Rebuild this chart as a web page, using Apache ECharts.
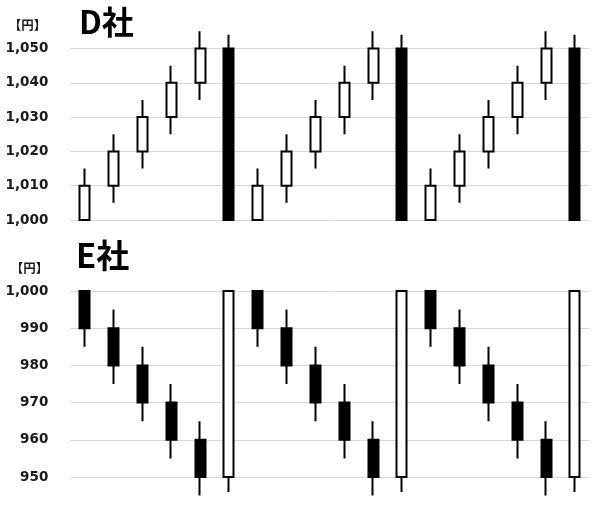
<!DOCTYPE html>
<html>
<head>
<meta charset="utf-8">
<script src="https://cdn.jsdelivr.net/npm/echarts@6/dist/echarts.min.js"></script>
<style>html,body{margin:0;padding:0;background:#fff}#c{width:600px;height:514px}</style>
</head>
<body>
<div id="c"></div>
<script>
// Categories (18 sessions, three repeated patterns)
var days = ['1','2','3','4','5','6','7','8','9','10','11','12','13','14','15','16','17','18'];

// D社 OHLC
var dOpen  = [1000,1010,1020,1030,1040,1050, 1000,1010,1020,1030,1040,1050, 1000,1010,1020,1030,1040,1050];
var dClose = [1010,1020,1030,1040,1050,1000, 1010,1020,1030,1040,1050,1000, 1010,1020,1030,1040,1050,1000];
var dLow   = [1000,1005,1015,1025,1035,1000, 1000,1005,1015,1025,1035,1000, 1000,1005,1015,1025,1035,1000];
var dHigh  = [1015,1025,1035,1045,1055,1054, 1015,1025,1035,1045,1055,1054, 1015,1025,1035,1045,1055,1054];

// E社 OHLC
var eOpen  = [1000,990,980,970,960,950, 1000,990,980,970,960,950, 1000,990,980,970,960,950];
var eClose = [990,980,970,960,950,1000, 990,980,970,960,950,1000, 990,980,970,960,950,1000];
var eLow   = [985,975,965,955,945,946, 985,975,965,955,945,946, 985,975,965,955,945,946];
var eHigh  = [1000,995,985,975,965,1000, 1000,995,985,975,965,1000, 1000,995,985,975,965,1000];

// Axis ticks
var dTicks = {min:1000, max:1050, interval:10};
var eTicks = {min:950, max:1000, interval:10};

function ohlc(o,c,l,h){ return o.map(function(v,i){ return [o[i], c[i], l[i], h[i]]; }); }
function fmt(v){ return String(v).replace(/\B(?=(\d{3})+(?!\d))/g, ','); }

var chart = echarts.init(document.getElementById('c'), null, {renderer:'canvas'});
var labelStyle = {fontFamily:'DejaVu Sans', fontWeight:'bold', fontSize:13.5, color:'#1a1a1a', margin:22, formatter: fmt};
var split = {show:true, lineStyle:{color:'#d9d9d9', width:1}};
var candleStyle = {color:'#ffffff', color0:'#000000', borderColor:'#000000', borderColor0:'#000000', borderWidth:2};

chart.setOption({
  animation:false,
  backgroundColor:'#ffffff',
  title:[
    {text:'D社', left:79, top:6, padding:0, textStyle:{fontFamily:'Noto Sans CJK JP', fontWeight:'bold', fontSize:32, color:'#000'}},
    {text:'E社', left:76, top:239, padding:0, textStyle:{fontFamily:'Noto Sans CJK JP', fontWeight:'bold', fontSize:33, color:'#000'}},
    {text:'【円】', left:27.5, textAlign:'center', top:18.5, padding:0, textStyle:{fontFamily:'Noto Sans CJK JP', fontWeight:'bold', fontSize:12.5, color:'#1a1a1a'}},
    {text:'【円】', left:29.5, textAlign:'center', top:262, padding:0, textStyle:{fontFamily:'Noto Sans CJK JP', fontWeight:'bold', fontSize:12.5, color:'#1a1a1a'}}
  ],
  grid:[
    {left:70.3, right:10.6, top:48.5, height:171.5},
    {left:70.3, right:10.6, top:291, height:186}
  ],
  xAxis:[
    {type:'category', gridIndex:0, data:days, show:false, boundaryGap:true},
    {type:'category', gridIndex:1, data:days, show:false, boundaryGap:true}
  ],
  yAxis:[
    {type:'value', gridIndex:0, min:dTicks.min, max:dTicks.max, interval:dTicks.interval, axisLine:{show:false}, axisTick:{show:false}, axisLabel:labelStyle, splitLine:split},
    {type:'value', gridIndex:1, min:eTicks.min, max:eTicks.max, interval:eTicks.interval, axisLine:{show:false}, axisTick:{show:false}, axisLabel:labelStyle, splitLine:split}
  ],
  series:[
    {name:'D社', type:'candlestick', xAxisIndex:0, yAxisIndex:0, data:ohlc(dOpen,dClose,dLow,dHigh), barWidth:10.5, clip:false, itemStyle:candleStyle},
    {name:'E社', type:'candlestick', xAxisIndex:1, yAxisIndex:1, data:ohlc(eOpen,eClose,eLow,eHigh), barWidth:10.5, clip:false, itemStyle:candleStyle}
  ]
});
</script>
</body>
</html>
